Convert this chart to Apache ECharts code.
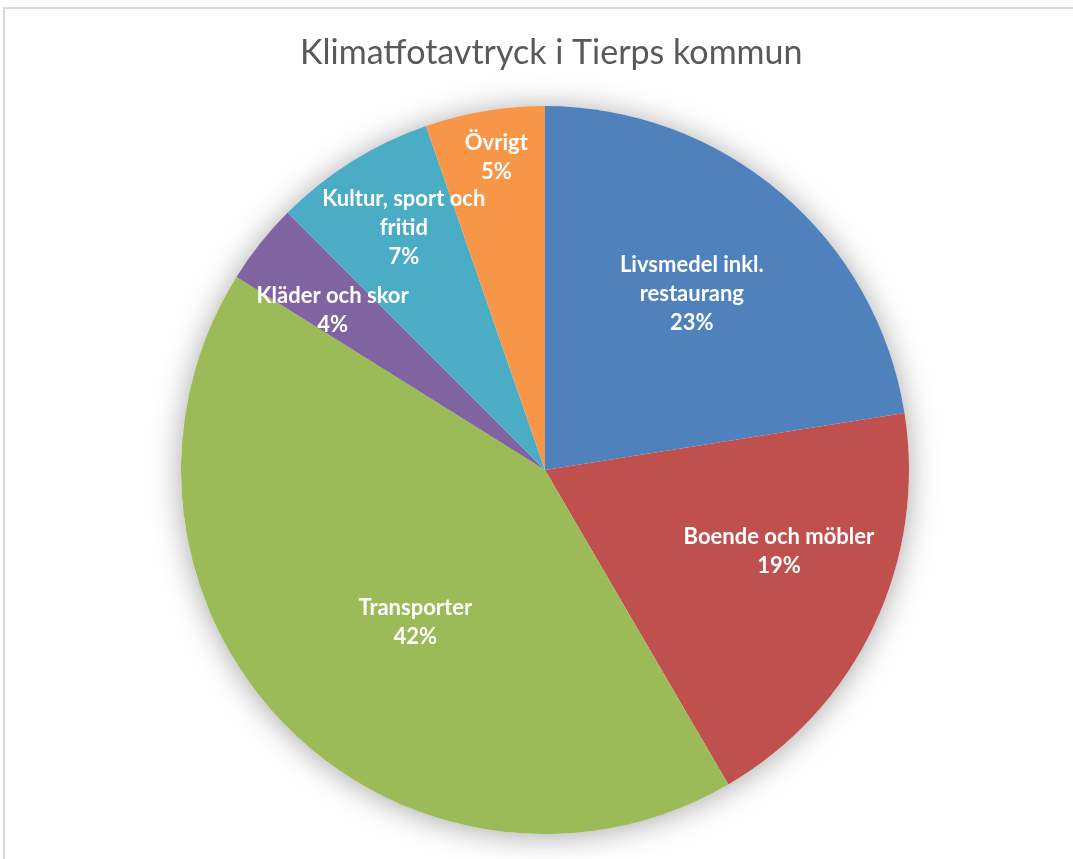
<!DOCTYPE html>
<html>
<head>
<meta charset="utf-8">
<title>Klimatfotavtryck i Tierps kommun</title>
<script src="https://cdn.jsdelivr.net/npm/echarts@6/dist/echarts.min.js"></script>
<style>
  html, body { margin: 0; padding: 0; background: #fff; overflow: hidden; }
  #frame {
    position: absolute; left: 3px; top: 7px; width: 1200px; height: 1000px;
    border: 2px solid #d9d9d9; box-sizing: border-box;
  }
  #main { position: absolute; left: 0; top: 0; width: 1073px; height: 859px; }
</style>
</head>
<body>
<div id="frame"></div>
<div id="main"></div>
<script>
// categories and shares (percent), clockwise from 12 o'clock
var categories = [
  "Livsmedel inkl.\nrestaurang",
  "Boende och möbler",
  "Transporter",
  "Kläder och skor",
  "Kultur, sport och\nfritid",
  "Övrigt"
];
var shares = [22.5, 19.1, 42.3, 3.6, 7.2, 5.3];
var colors = ["#4F81BD", "#C0504D", "#9BBB59", "#8064A2", "#4BACC6", "#F79646"];

// label placement (Excel "best fit" look): radius fraction + angle tweak in degrees
var labelRadius = [0.63, 0.68, 0.55, 0.73, 0.77, 0.87];
var labelTurn = [-0.7, -6.3, -5.5, -1.6, 1.8, 0.7];

var cx = 545, cy = 470, R = 364;

var total = shares.reduce(function (a, b) { return a + b; }, 0);
var cum = [];
var acc = 0;
shares.forEach(function (v) { cum.push(acc); acc += v; });

var chart = echarts.init(document.getElementById("main"));
var option = {
  title: {
    text: "Klimatfotavtryck i Tierps kommun",
    left: 295,
    top: 31,
    textStyle: {
      fontFamily: "Lato",
      fontWeight: "normal",
      fontSize: 34,
      color: "#595959"
    }
  },
  series: [
    {
      // shadow disc behind the pie
      type: "pie",
      center: [cx, cy],
      radius: R,
      silent: true,
      z: 1,
      label: { show: false },
      labelLine: { show: false },
      itemStyle: {
        color: "#ffffff",
        shadowBlur: 30,
        shadowColor: "rgba(0,0,0,0.35)",
        shadowOffsetY: 2
      },
      data: [{ value: 1, name: "" }]
    },
    {
      type: "pie",
      center: [cx, cy],
      radius: R,
      startAngle: 90,
      clockwise: true,
      z: 2,
      silent: true,
      itemStyle: { borderWidth: 0 },
      label: {
        show: true,
        position: "inside",
        color: "#ffffff",
        fontFamily: "Lato",
        fontWeight: "bold",
        fontSize: 22,
        lineHeight: 29,
        align: "center",
        formatter: function (p) {
          return p.name + "\n" + Math.round(p.value / total * 100) + "%";
        }
      },
      labelLine: { show: false },
      labelLayout: function (p) {
        var i = p.dataIndex;
        var a = ((cum[i] + shares[i] / 2) / total * 360 + labelTurn[i]) * Math.PI / 180;
        var r = R * labelRadius[i];
        return {
          x: cx + r * Math.sin(a),
          y: cy - r * Math.cos(a),
          align: "center",
          verticalAlign: "middle"
        };
      },
      data: categories.map(function (c, i) {
        return { name: c, value: shares[i], itemStyle: { color: colors[i] } };
      })
    }
  ]
};
chart.setOption(option);
window.onresize = function () {
  chart.resize();
};
</script>
</body>
</html>
